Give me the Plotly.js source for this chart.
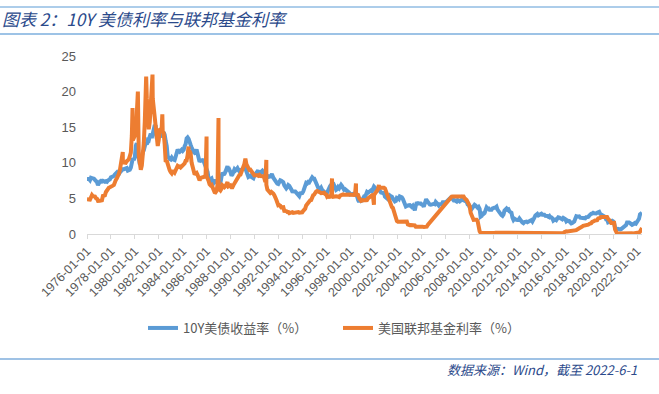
<!DOCTYPE html>
<html>
<head>
<meta charset="utf-8">
<script src="https://cdn.plot.ly/plotly-3.0.1.min.js"></script>
<style>html,body{margin:0;padding:0;background:#fff;}#chart{width:659px;height:394px;}</style>
</head>
<body>
<div id="chart"></div>
<script>
// Monthly values, 1976-01 .. 2022-06 (one row per year)
const startYear = 1976;
const tenYearYield = [
7.74,7.79,7.73,7.56,7.90,7.86,7.83,7.77,7.59,7.41,7.29,6.87,
7.21,7.39,7.46,7.37,7.46,7.28,7.33,7.40,7.34,7.52,7.58,7.69,
7.96,8.03,8.04,8.15,8.35,8.46,8.64,8.41,8.42,8.64,8.81,9.01,
9.10,9.10,9.12,9.18,9.25,8.91,8.95,9.03,9.33,10.30,10.65,10.39,
10.80,12.41,12.75,11.47,10.18,9.78,10.25,11.10,11.51,11.75,12.68,12.84,
12.57,13.19,13.12,13.68,14.10,13.47,14.28,14.94,15.32,15.15,13.39,13.72,
14.59,14.43,13.86,13.87,13.62,14.30,13.95,13.06,12.34,10.91,10.55,10.54,
10.46,10.72,10.51,10.40,10.38,10.85,11.38,11.85,11.65,11.54,11.69,11.83,
11.67,11.84,12.32,12.63,13.41,13.56,13.36,12.72,12.52,12.16,11.57,11.50,
11.38,11.51,11.86,11.43,10.85,10.16,10.31,10.33,10.37,10.24,9.78,9.26,
9.19,8.70,7.78,7.30,7.71,7.80,7.30,7.17,7.45,7.43,7.25,7.11,
7.08,7.25,7.25,8.02,8.61,8.40,8.45,8.76,9.42,9.52,8.86,8.99,
8.67,8.21,8.37,8.72,9.09,8.92,9.06,9.26,8.98,8.80,8.96,9.11,
9.09,9.17,9.36,9.18,8.86,8.28,8.02,8.11,8.19,8.01,7.87,7.84,
8.21,8.47,8.59,8.79,8.76,8.48,8.47,8.75,8.89,8.72,8.39,8.08,
8.09,7.85,8.11,8.04,8.07,8.28,8.27,7.90,7.65,7.53,7.42,7.09,
7.03,7.34,7.54,7.48,7.39,7.26,6.84,6.59,6.42,6.59,6.87,6.77,
6.60,6.26,5.98,5.97,6.04,5.96,5.81,5.68,5.36,5.33,5.72,5.77,
5.75,5.97,6.48,6.97,7.18,7.10,7.30,7.24,7.46,7.74,7.96,7.81,
7.78,7.47,7.20,7.06,6.63,6.17,6.28,6.49,6.20,6.04,5.93,5.71,
5.65,5.81,6.27,6.51,6.74,6.91,6.87,6.64,6.83,6.53,6.20,6.30,
6.58,6.42,6.69,6.89,6.71,6.49,6.22,6.30,6.21,6.03,5.88,5.81,
5.54,5.57,5.65,5.64,5.65,5.50,5.46,5.34,4.81,4.53,4.83,4.65,
4.72,5.00,5.23,5.18,5.54,5.90,5.79,5.94,5.92,6.11,6.03,6.28,
6.66,6.52,6.26,5.99,6.44,6.10,6.05,5.83,5.80,5.74,5.72,5.24,
5.16,5.10,4.89,5.14,5.39,5.28,5.24,4.97,4.73,4.57,4.65,5.09,
5.04,4.91,5.28,5.21,5.16,4.93,4.65,4.26,3.87,3.94,4.05,4.03,
4.05,3.90,3.81,3.96,3.57,3.33,3.98,4.45,4.27,4.29,4.30,4.27,
4.15,4.08,3.83,4.35,4.72,4.73,4.50,4.28,4.13,4.10,4.19,4.23,
4.22,4.17,4.50,4.34,4.14,4.00,4.18,4.26,4.20,4.46,4.54,4.47,
4.42,4.57,4.72,4.99,5.11,5.11,5.09,4.88,4.72,4.73,4.60,4.56,
4.76,4.72,4.56,4.69,4.75,5.10,5.00,4.67,4.52,4.53,4.15,4.10,
3.74,3.74,3.51,3.68,3.88,4.10,4.01,3.89,3.69,3.81,3.53,2.42,
2.52,2.87,2.82,2.93,3.29,3.72,3.56,3.59,3.40,3.39,3.40,3.59,
3.73,3.69,3.73,3.85,3.42,3.20,3.01,2.70,2.65,2.54,2.76,3.29,
3.39,3.58,3.41,3.46,3.17,3.00,3.00,2.30,1.98,2.15,2.01,1.98,
1.97,1.97,2.17,2.05,1.80,1.62,1.53,1.68,1.72,1.75,1.65,1.72,
1.91,1.98,1.96,1.76,1.93,2.30,2.58,2.74,2.81,2.62,2.72,2.90,
2.86,2.71,2.72,2.71,2.56,2.60,2.54,2.42,2.53,2.30,2.33,2.21,
1.88,1.98,2.04,1.94,2.20,2.36,2.32,2.17,2.17,2.07,2.26,2.24,
2.09,1.78,1.89,1.81,1.81,1.64,1.50,1.56,1.63,1.76,2.14,2.49,
2.43,2.42,2.48,2.30,2.30,2.19,2.32,2.21,2.20,2.36,2.35,2.40,
2.58,2.86,2.84,2.87,2.98,2.91,2.89,2.89,3.00,3.15,3.12,2.83,
2.71,2.68,2.57,2.53,2.40,2.07,2.06,1.63,1.70,1.71,1.81,1.86,
1.76,1.50,0.87,0.66,0.67,0.73,0.62,0.65,0.68,0.79,0.87,0.93,
1.08,1.26,1.61,1.64,1.62,1.52,1.32,1.28,1.37,1.58,1.56,1.47,
1.76,1.93,2.13,2.75,2.90,3.00
];
const fedFundsRate = [
4.87,4.77,4.84,4.82,5.29,5.48,5.31,5.29,5.25,5.02,4.95,4.65,
4.61,4.68,4.69,4.73,5.35,5.39,5.42,5.90,6.14,6.47,6.51,6.56,
6.70,6.78,6.79,6.89,7.36,7.60,7.81,8.04,8.45,8.96,9.76,10.03,
10.07,10.06,10.09,10.01,10.24,10.29,10.47,10.94,11.43,13.77,13.18,13.78,
13.82,14.13,17.19,17.61,10.98,9.47,9.03,9.61,10.87,12.81,15.85,18.90,
19.08,15.93,14.70,15.72,18.52,19.10,19.04,17.82,15.87,15.08,13.31,12.37,
13.22,14.78,14.68,14.94,14.45,14.15,12.59,10.12,10.31,9.71,9.20,8.95,
8.68,8.51,8.77,8.80,8.63,8.98,9.37,9.56,9.45,9.48,9.34,9.47,
9.56,9.59,9.91,10.29,10.32,11.06,11.23,11.64,11.30,9.99,9.43,8.38,
8.35,8.50,8.58,8.27,7.97,7.53,7.88,7.90,7.92,7.99,8.05,8.27,
8.14,7.86,7.48,6.99,6.85,6.92,6.56,6.17,5.89,5.85,6.04,6.91,
6.43,6.10,6.13,6.37,6.85,6.73,6.58,6.73,7.22,7.29,6.69,6.77,
6.83,6.58,6.58,6.87,7.09,7.51,7.75,8.01,8.19,8.30,8.35,8.76,
9.12,9.36,9.85,9.84,9.81,9.53,9.24,8.99,9.02,8.84,8.55,8.45,
8.23,8.24,8.28,8.26,8.18,8.29,8.15,8.13,8.20,8.11,7.81,7.31,
6.91,6.25,6.12,5.91,5.78,5.90,5.82,5.66,5.45,5.21,4.81,4.43,
4.03,4.06,3.98,3.73,3.82,3.76,3.25,3.30,3.22,3.10,3.09,2.92,
3.02,3.03,3.07,2.96,3.00,3.04,3.06,3.03,3.09,2.99,3.02,2.96,
3.05,3.25,3.34,3.56,4.01,4.25,4.26,4.47,4.73,4.76,5.29,5.45,
5.53,5.92,5.98,6.05,6.01,6.00,5.85,5.74,5.80,5.76,5.80,5.60,
5.56,5.22,5.31,5.22,5.24,5.27,5.40,5.22,5.30,5.24,5.31,5.29,
5.25,5.19,5.39,5.51,5.50,5.56,5.52,5.54,5.54,5.50,5.52,5.50,
5.56,5.51,5.49,5.45,5.49,5.56,5.54,5.55,5.51,5.07,4.83,4.68,
4.63,4.76,4.81,4.74,4.74,4.76,4.99,5.07,5.22,5.20,5.42,5.30,
5.45,5.73,5.85,6.02,6.27,6.53,6.54,6.50,6.52,6.51,6.51,6.40,
5.98,5.49,5.31,4.80,4.21,3.97,3.77,3.65,3.07,2.49,2.09,1.82,
1.73,1.74,1.73,1.75,1.75,1.75,1.73,1.74,1.75,1.75,1.34,1.24,
1.24,1.26,1.25,1.26,1.26,1.22,1.01,1.03,1.01,1.01,1.00,0.98,
1.00,1.01,1.00,1.00,1.00,1.03,1.26,1.43,1.61,1.76,1.93,2.16,
2.28,2.50,2.63,2.79,3.00,3.04,3.26,3.50,3.62,3.78,4.00,4.16,
4.29,4.49,4.59,4.79,4.94,4.99,5.24,5.25,5.25,5.25,5.25,5.24,
5.25,5.26,5.26,5.25,5.25,5.25,5.26,5.02,4.94,4.76,4.49,4.24,
3.94,2.98,2.61,2.28,1.98,2.00,2.01,2.00,1.81,0.97,0.39,0.16,
0.15,0.22,0.18,0.15,0.18,0.21,0.16,0.16,0.15,0.12,0.12,0.12,
0.11,0.13,0.16,0.20,0.20,0.18,0.18,0.19,0.19,0.19,0.19,0.18,
0.17,0.16,0.14,0.10,0.09,0.09,0.07,0.10,0.08,0.07,0.08,0.07,
0.08,0.10,0.13,0.14,0.16,0.16,0.16,0.13,0.14,0.16,0.16,0.16,
0.14,0.15,0.14,0.15,0.11,0.09,0.09,0.08,0.08,0.09,0.08,0.09,
0.07,0.07,0.08,0.09,0.09,0.10,0.09,0.09,0.09,0.09,0.09,0.12,
0.11,0.11,0.11,0.12,0.12,0.13,0.13,0.14,0.14,0.12,0.12,0.24,
0.34,0.38,0.36,0.37,0.37,0.38,0.39,0.40,0.40,0.40,0.41,0.54,
0.65,0.66,0.79,0.90,0.91,1.04,1.15,1.16,1.15,1.15,1.16,1.30,
1.41,1.42,1.51,1.69,1.70,1.82,1.91,1.91,1.95,2.19,2.20,2.27,
2.40,2.40,2.41,2.42,2.39,2.38,2.40,2.13,2.04,1.83,1.55,1.55,
1.55,1.58,0.65,0.05,0.05,0.08,0.09,0.10,0.09,0.09,0.09,0.09,
0.09,0.08,0.07,0.07,0.06,0.08,0.10,0.09,0.08,0.08,0.08,0.08,
0.08,0.08,0.20,0.33,0.77,0.83
];
// Daily spikes of the fed funds rate visible in the picture
const ffrSpikeDates = ['1978-12-29','1979-10-23','1980-04-03','1980-12-12','1981-06-24','1982-04-20','1984-06-29','1985-12-31','1986-12-31','1989-03-31','1990-12-31','1996-06-28','1998-06-30','1998-12-31','1999-12-31','2000-05-31'];
const ffrSpikeValues = [11.5,17.7,20.0,22.1,22.4,16.8,12.3,13.7,16.3,10.6,10.4,7.8,7.1,4.5,4.1,6.9];

const tickYears = [];
for (let y = 1976; y <= 2022; y += 2) tickYears.push(y);
const tickVals = tickYears.map(y => y + '-01-01');
const tickText = tickYears.map(y => y + '-01-01');

const seriesNames = ['10Y美债收益率（%）', '美国联邦基金利率（%）'];

function monthDates(n) {
  const out = [];
  for (let i = 0; i < n; i++) {
    const y = startYear + Math.floor(i / 12);
    const m = (i % 12) + 1;
    out.push(y + '-' + String(m).padStart(2, '0') + '-01');
  }
  return out;
}
const tyDates = monthDates(tenYearYield.length);
let ffPairs = monthDates(fedFundsRate.length).map((d, i) => [d, fedFundsRate[i]]);
ffrSpikeDates.forEach((d, i) => ffPairs.push([d, ffrSpikeValues[i]]));
ffPairs.sort((a, b) => a[0] < b[0] ? -1 : a[0] > b[0] ? 1 : 0);

const W = 659, H = 394, L = 87, R = 17, T = 56, B = 160;
const pw = W - L - R, ph = H - T - B;
const px = x => (x - L) / pw;
const py = y => (H - B - y) / ph;

const tickFont = {family: 'Liberation Sans, Arial, sans-serif', size: 12.5, color: '#595959'};
const cjk = '"Noto Sans CJK SC", "Noto Sans", sans-serif';

const data = [
  {x: tyDates, y: tenYearYield, type: 'scatter', mode: 'lines', name: seriesNames[0],
   line: {color: '#5B9BD5', width: 4}},
  {x: ffPairs.map(p => p[0]), y: ffPairs.map(p => p[1]), type: 'scatter', mode: 'lines', name: seriesNames[1],
   line: {color: '#ED7D31', width: 4}}
];

const layout = {
  width: W, height: H,
  margin: {l: L, r: R, t: T, b: B},
  paper_bgcolor: '#fff', plot_bgcolor: '#fff',
  title: {text: '图表 2：10Y 美债利率与联邦基金利率', xref: 'container', yref: 'container',
          x: 2 / W, xanchor: 'left', y: 1 - 20 / H, yanchor: 'middle',
          font: {family: cjk, size: 17, color: '#2B4A8B', style: 'italic'}},
  xaxis: {type: 'date', range: ['1976-01-01', '2022-06-01'], tickvals: tickVals, ticktext: tickText,
          tickangle: -45, tickfont: tickFont, showgrid: false, zeroline: false,
          showline: true, linecolor: '#D9D9D9', linewidth: 1,
          ticks: 'outside', ticklen: 4, tickcolor: '#D9D9D9'},
  yaxis: {range: [0, 25], dtick: 5, tickfont: {...tickFont, size: 13}, showgrid: false, zeroline: false,
          showline: false, ticks: '', ticklabelstandoff: 10},
  showlegend: true,
  legend: {orientation: 'h', x: px(143), xanchor: 'left', y: py(328), yanchor: 'middle',
           entrywidth: 150, entrywidthmode: 'pixels',
           font: {family: cjk, size: 13, color: '#595959'}, bgcolor: 'rgba(0,0,0,0)'},
  shapes: [
    {type: 'line', xref: 'paper', yref: 'paper', x0: px(0), x1: px(W), y0: py(7), y1: py(7),
     line: {color: '#5B9BD5', width: 1}},
    {type: 'line', xref: 'paper', yref: 'paper', x0: px(0), x1: px(W), y0: py(34), y1: py(34),
     line: {color: '#9DC3E6', width: 2}},
    {type: 'line', xref: 'paper', yref: 'paper', x0: px(0), x1: px(W), y0: py(359), y1: py(359),
     line: {color: '#7FAEDD', width: 1.5}}
  ],
  annotations: [
    {text: '数据来源：Wind，截至 2022-6-1', xref: 'paper', yref: 'paper', x: px(639), xanchor: 'right',
     y: py(369), yanchor: 'middle', showarrow: false,
     font: {family: cjk, size: 13, color: '#2B4A8B', style: 'italic'}}
  ]
};

Plotly.newPlot('chart', data, layout, {displayModeBar: false, staticPlot: true});
</script>
</body>
</html>
